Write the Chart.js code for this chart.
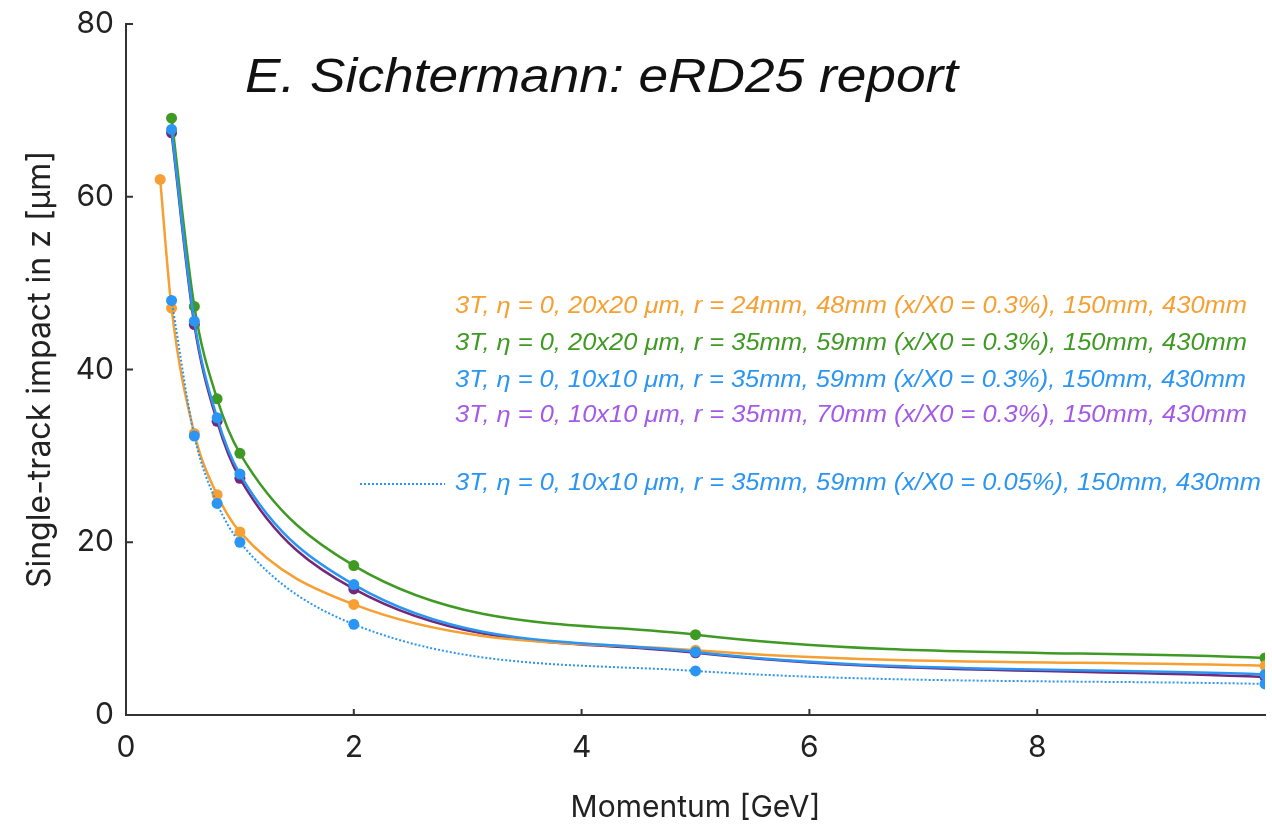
<!DOCTYPE html>
<html>
<head>
<meta charset="utf-8">
<script src="https://cdn.jsdelivr.net/npm/chart.js@4.4.1/dist/chart.umd.min.js"></script>
<style>
  html, body { margin: 0; padding: 0; background: #fff; }
  #wrap { width: 1272px; height: 830px; }
</style>
</head>
<body>
<div id="wrap"><canvas id="chart" width="1272" height="830"></canvas></div>
<script>
// momentum values [GeV]
const momentumOrange = [0.3, 0.4, 0.6, 0.8, 1, 2, 5, 10];
const momentum = [0.4, 0.6, 0.8, 1, 2, 5, 10];

// single-track impact resolution in z [um]
const orange24mm   = [62.0, 47.1, 32.6, 25.5, 21.2, 12.8, 7.5, 5.7];
const green20x20   = [69.1, 47.3, 36.6, 30.3, 17.3, 9.3, 6.6];
const blue10x10    = [67.8, 45.6, 34.4, 27.9, 15.1, 7.3, 4.7];
const purple70mm   = [67.4, 45.2, 34.0, 27.4, 14.6, 7.2, 4.4];
const blueLowMat   = [48.0, 32.3, 24.5, 20.0, 10.5, 5.1, 3.6];

const labels = [
  '3T, \u03b7 = 0, 20x20 \u03bcm, r = 24mm, 48mm (x/X0 = 0.3%), 150mm, 430mm',
  '3T, \u03b7 = 0, 20x20 \u03bcm, r = 35mm, 59mm (x/X0 = 0.3%), 150mm, 430mm',
  '3T, \u03b7 = 0, 10x10 \u03bcm, r = 35mm, 59mm (x/X0 = 0.3%), 150mm, 430mm',
  '3T, \u03b7 = 0, 10x10 \u03bcm, r = 35mm, 70mm (x/X0 = 0.3%), 150mm, 430mm',
  '3T, \u03b7 = 0, 10x10 \u03bcm, r = 35mm, 59mm (x/X0 = 0.05%), 150mm, 430mm',
];
const xTicks = [0, 2, 4, 6, 8];
const yTicks = [0, 20, 40, 60, 80];

const ORANGE = '#f6a033', GREEN = '#3f9a24', BLUE = '#2b95f3', PURPLE = '#72297a', PURPLE_TXT = '#a45ae8';
const FONT = 'Inter, "Liberation Sans", Arial, sans-serif';
const TFONT = '"Liberation Sans", Arial, sans-serif';

const pts = (xs, ys) => xs.map((x, i) => ({ x, y: ys[i] }));

function series(label, xs, ys, color, order, extra) {
  return Object.assign({
    label,
    data: pts(xs, ys),
    borderColor: color,
    backgroundColor: color,
    borderWidth: 2.5,
    pointRadius: 5.5,
    pointBorderWidth: 0,
    cubicInterpolationMode: 'monotone',
    order,
  }, extra || {});
}

// draw text stretched to fit between x0 and x1
function fitText(ctx, text, x0, x1, y) {
  const w = ctx.measureText(text).width;
  ctx.save();
  ctx.translate(x0, y);
  ctx.scale((x1 - x0) / w, 1);
  ctx.fillText(text, 0, 0);
  ctx.restore();
}

const annotations = {
  id: 'annotations',
  afterDraw(chart) {
    const { ctx, scales: { x, y } } = chart;
    ctx.save();
    // inward tick marks
    ctx.strokeStyle = '#333';
    ctx.lineWidth = 2;
    xTicks.forEach(v => {
      const px = x.getPixelForValue(v);
      ctx.beginPath(); ctx.moveTo(px, y.bottom); ctx.lineTo(px, y.bottom - 6); ctx.stroke();
    });
    yTicks.forEach(v => {
      const py = y.getPixelForValue(v);
      ctx.beginPath(); ctx.moveTo(x.left, py); ctx.lineTo(x.left + 7, py); ctx.stroke();
    });
    // title
    ctx.fillStyle = '#111';
    ctx.font = 'italic 48px ' + TFONT;
    ctx.textBaseline = 'alphabetic';
    ctx.textAlign = 'left';
    fitText(ctx, 'E. Sichtermann: eRD25 report', 245, 958, 92);
    // legend
    const colors = [ORANGE, GREEN, BLUE, PURPLE_TXT, BLUE];
    const rows = [313, 350, 387, 422, 490];
    const ends = [1247, 1247, 1246, 1247, 1261];
    ctx.font = 'italic 23px ' + TFONT;
    labels.forEach((t, i) => {
      ctx.fillStyle = colors[i];
      fitText(ctx, t, 455, ends[i], rows[i]);
    });
    ctx.strokeStyle = BLUE;
    ctx.setLineDash([2, 2]);
    ctx.beginPath(); ctx.moveTo(360, 484); ctx.lineTo(445, 484); ctx.stroke();
    ctx.restore();
  }
};

new Chart(document.getElementById('chart'), {
  type: 'line',
  data: {
    datasets: [
      series(labels[3], momentum, purple70mm, PURPLE, 4),
      series(labels[2], momentum, blue10x10, BLUE, 1),
      series(labels[1], momentum, green20x20, GREEN, 3),
      series(labels[0], momentumOrange, orange24mm, ORANGE, 2),
      series(labels[4], momentum, blueLowMat, BLUE, 0, { borderWidth: 2, borderDash: [2, 2] }),
    ],
  },
  options: {
    responsive: false,
    animation: false,
    layout: { padding: { top: 24, right: 7, left: 0, bottom: 0 } },
    plugins: { legend: { display: false }, tooltip: { enabled: false } },
    scales: {
      x: {
        type: 'linear',
        min: 0, max: 10,
        afterBuildTicks: s => { s.ticks = xTicks.map(v => ({ value: v })); },
        afterFit: s => { s.height = 115; },
        grid: { display: false },
        border: { display: true, color: '#333', width: 2 },
        ticks: { color: '#222', padding: 7, font: { family: FONT, size: 30 } },
        title: { display: true, text: 'Momentum [GeV]', color: '#222', padding: { bottom: 4 }, font: { family: FONT, size: 30 } },
      },
      y: {
        type: 'linear',
        min: 0, max: 80,
        afterBuildTicks: s => { s.ticks = yTicks.map(v => ({ value: v })); },
        afterFit: s => { s.width = 126; s.paddingTop = 0; },
        grid: { display: false },
        border: { display: true, color: '#333', width: 2 },
        ticks: { color: '#222', padding: 4, font: { family: FONT, size: 30 } },
        title: { display: true, text: 'Single-track impact in z [\u03bcm]', color: '#222', padding: { top: 21 }, font: { family: FONT, size: 32 } },
      },
    },
  },
  plugins: [annotations],
});
</script>
</body>
</html>
